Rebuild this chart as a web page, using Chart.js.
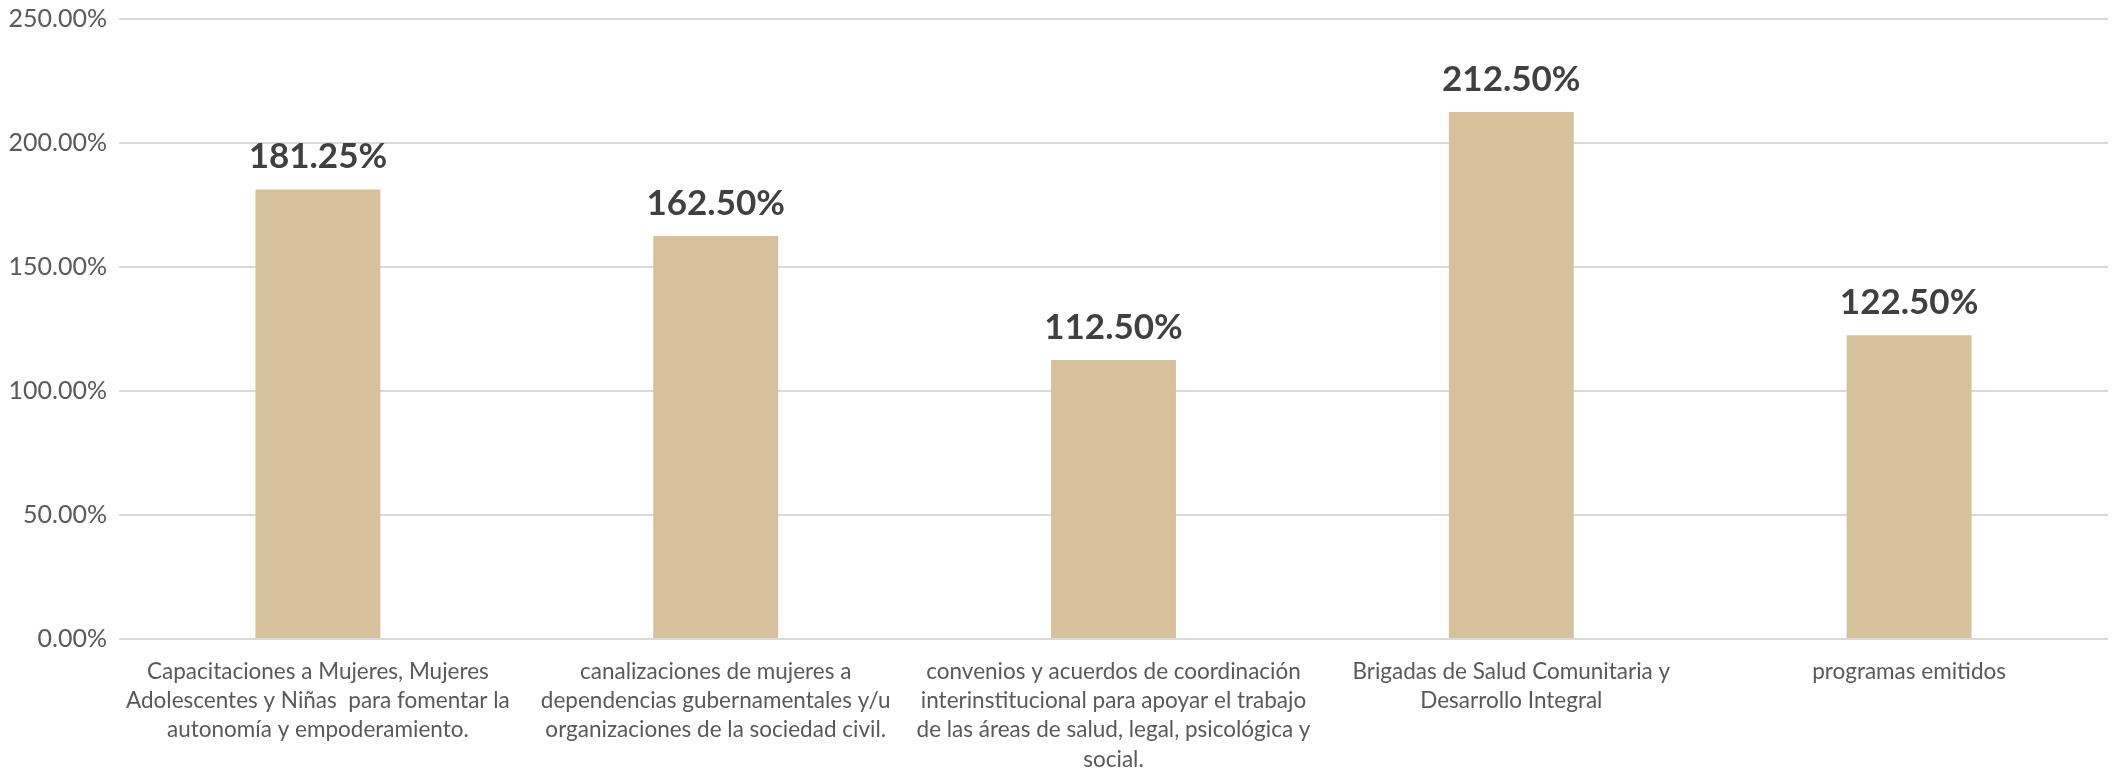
<!DOCTYPE html>
<html>
<head>
<meta charset="utf-8">
<script src="https://cdn.jsdelivr.net/npm/chart.js@4"></script>
<style>
    html, body { margin: 0; padding: 0; background: #fff; }
    #wrap { width: 2126px; height: 768px; }
</style>
</head>
<body>
<div id="wrap"><canvas id="chart" width="2126" height="768"></canvas></div>
<script>
// category labels, already split in lines as in the original
const categories = [
    ['Capacitaciones a Mujeres, Mujeres', 'Adolescentes y Niñas  para fomentar la', 'autonomía y empoderamiento.'],
    ['canalizaciones de mujeres a', 'dependencias gubernamentales y/u', 'organizaciones de la sociedad civil.'],
    ['convenios y acuerdos de coordinación', 'interinstitucional para apoyar el trabajo', 'de las áreas de salud, legal, psicológica y', 'social.'],
    ['Brigadas de Salud Comunitaria y', 'Desarrollo Integral'],
    ['programas emitidos']
];
const values = [181.25, 162.5, 112.5, 212.5, 122.5];
const yTicks = [0, 50, 100, 150, 200, 250];

const FONT = 'Lato, "Open Sans", sans-serif';

// draw the value on top of each bar
const valueLabels = {
    id: 'valueLabels',
    afterDatasetsDraw(chart) {
        const ctx = chart.ctx;
        const meta = chart.getDatasetMeta(0);
        ctx.save();
        ctx.font = 'bold 35px ' + FONT;
        ctx.fillStyle = '#404040';
        ctx.textAlign = 'center';
        ctx.textBaseline = 'bottom';
        meta.data.forEach((bar, i) => {
            ctx.fillText(values[i].toFixed(2) + '%', bar.x, bar.y - 15);
        });
        ctx.restore();
    }
};

new Chart(document.getElementById('chart'), {
    type: 'bar',
    data: {
        labels: categories,
        datasets: [{
            data: values,
            backgroundColor: '#D6C19C',
            categoryPercentage: 1,
            barPercentage: 0.314
        }]
    },
    options: {
        responsive: false,
        animation: false,
        layout: { padding: { top: 19, right: 18, bottom: 0, left: 0 } },
        plugins: { legend: { display: false }, tooltip: { enabled: false } },
        scales: {
            x: {
                grid: { display: false },
                border: { display: false },
                ticks: {
                    color: '#595959',
                    font: { family: FONT, size: 22.5, lineHeight: 1.3 },
                    padding: 10,
                    maxRotation: 0,
                    autoSkip: false
                },
                afterFit(axis) { axis.height = 129; }
            },
            y: {
                min: 0,
                max: 250,
                afterBuildTicks(axis) { axis.ticks = yTicks.map(v => ({ value: v })); },
                grid: { color: '#D9D9D9', lineWidth: 2, drawTicks: false },
                border: { display: false },
                ticks: {
                    color: '#595959',
                    font: { family: FONT, size: 25, lineHeight: 0.5 },
                    padding: 12,
                    callback: v => v.toFixed(2) + '%'
                },
                afterFit(axis) { axis.width = 119; }
            }
        }
    },
    plugins: [valueLabels]
});
</script>
</body>
</html>
